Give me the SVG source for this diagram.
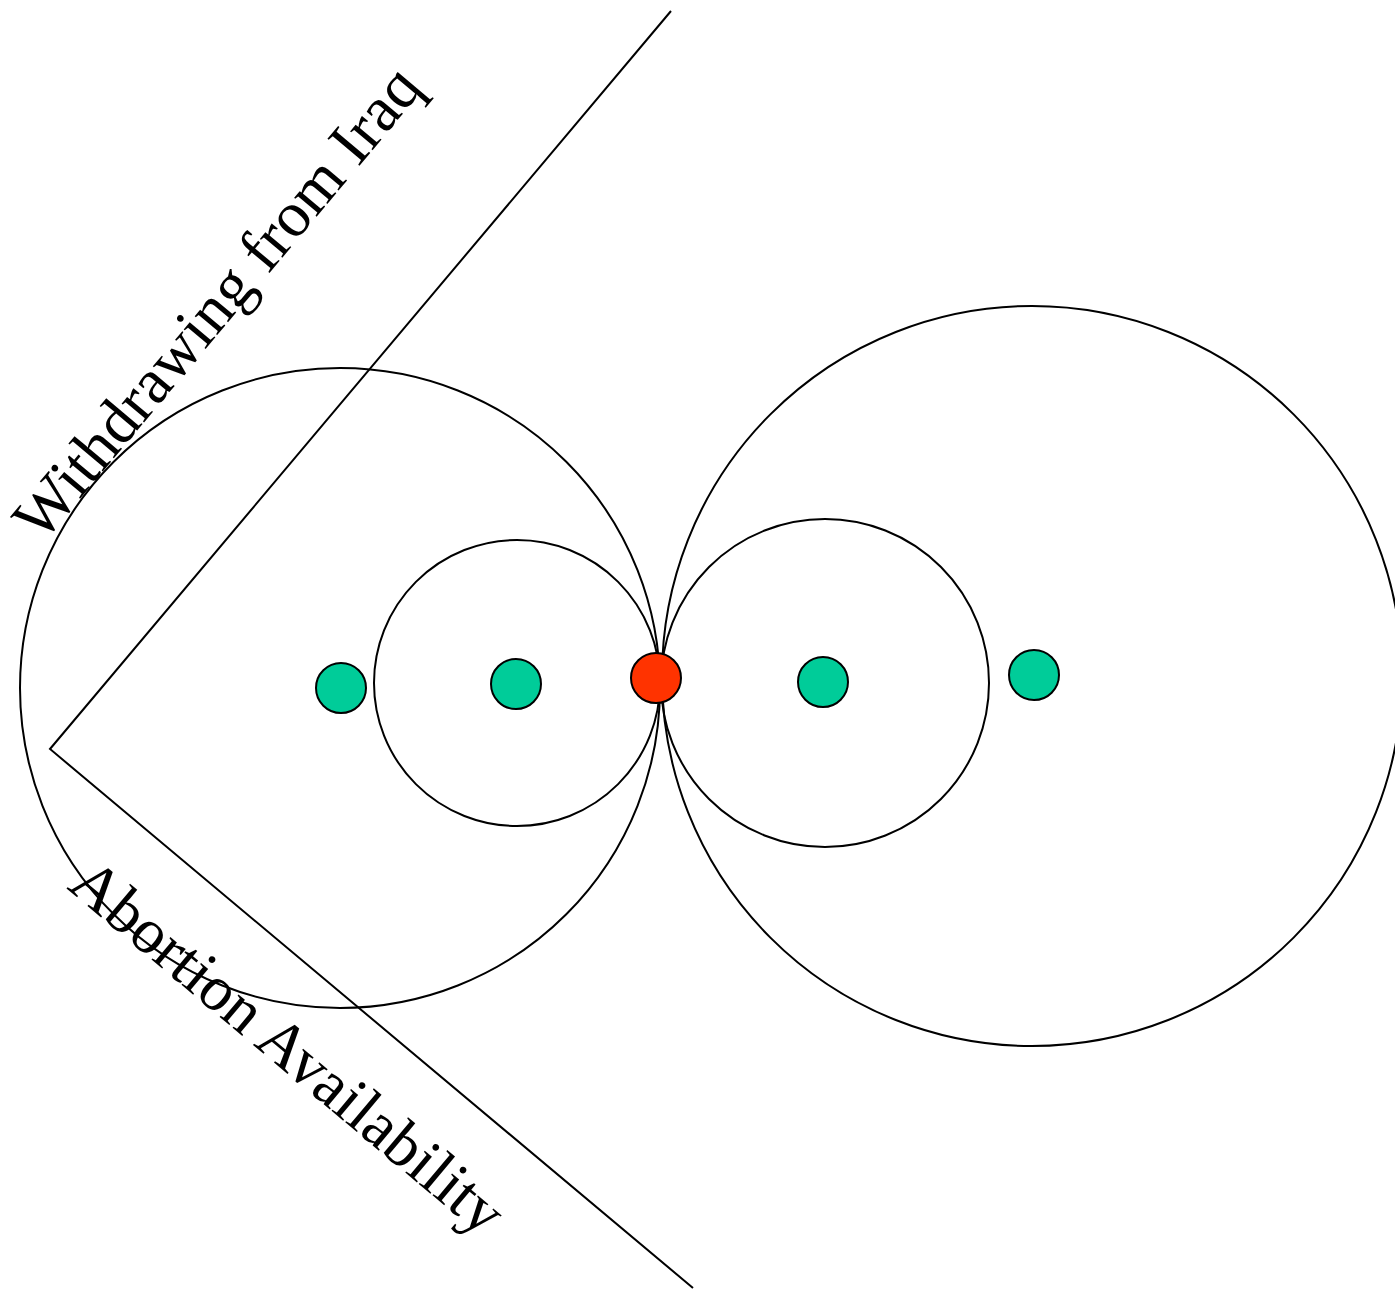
<svg xmlns="http://www.w3.org/2000/svg" width="1395" height="1290" viewBox="0 0 1395 1290">
<style>
.ring{fill:none;stroke:#000;stroke-width:2}
.dot{stroke:#000;stroke-width:2}
.g{fill:#00CC99}
.r{fill:#FF3300}
.lbl{font-family:"Liberation Serif","Times New Roman",serif;font-size:64px;fill:#000}
.ax{fill:none;stroke:#000;stroke-width:2}
</style>
<rect width="1395" height="1290" fill="#fff"/>
<g id="connectors">
<polyline class="ax" points="671,11 50,749 693,1288"/>
</g>
<g id="ring-left-big"><circle class="ring" cx="340" cy="688" r="320"/></g>
<g id="ring-left-small"><circle class="ring" cx="517" cy="683" r="143"/></g>
<g id="ring-right-small"><circle class="ring" cx="825" cy="683" r="164"/></g>
<g id="ring-right-big"><circle class="ring" cx="1032" cy="676" r="370"/></g>
<g id="dot1"><circle class="dot g" cx="341" cy="688" r="25"/></g>
<g id="dot2"><circle class="dot g" cx="516" cy="684" r="25"/></g>
<g id="dot3"><circle class="dot r" cx="656" cy="678" r="25"/></g>
<g id="dot4"><circle class="dot g" cx="823" cy="682" r="25"/></g>
<g id="dot5"><circle class="dot g" cx="1034" cy="675" r="25"/></g>
<g id="label-iraq"><text class="lbl" transform="translate(42,544) rotate(-50)">Withdrawing from Iraq</text></g>
<g id="label-abortion"><text class="lbl" transform="translate(66,888) rotate(40)">Abortion Availability</text></g>
</svg>
